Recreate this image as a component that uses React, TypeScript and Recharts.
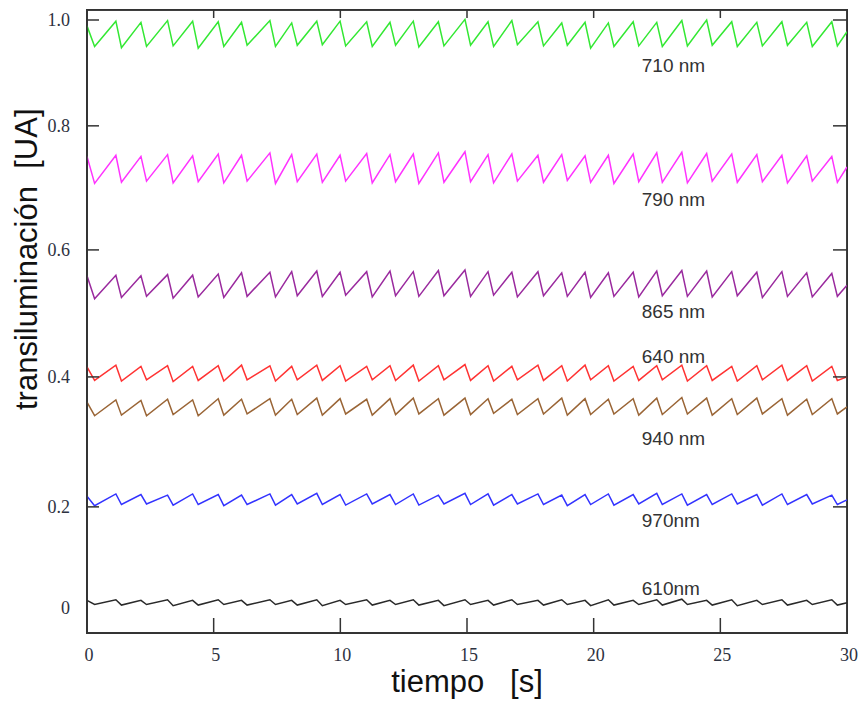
import React from 'react';
import { LineChart, Line, XAxis, YAxis, ReferenceDot, ReferenceLine, ReferenceArea, CartesianGrid } from 'recharts';

// sample times [s]: start, first trough, then peak/trough pairs for each beat, end
const TIME = [
  0, 0.3,
  1.14, 1.36, 2.13, 2.35, 3.18, 3.4, 4.17, 4.39, 5.18, 5.4,
  6.1, 6.32, 7.22, 7.44, 8.08, 8.3, 9.07, 9.29, 9.99, 10.21,
  11.04, 11.26, 11.96, 12.18, 12.88, 13.1, 13.87, 14.09, 14.92, 15.14,
  15.83, 16.05, 16.77, 16.99, 17.8, 18.02, 18.74, 18.96, 19.66, 19.88,
  20.58, 20.8, 21.56, 21.78, 22.49, 22.71, 23.48, 23.7, 24.46, 24.68,
  25.45, 25.67, 26.44, 26.66, 27.43, 27.65, 28.41, 28.63, 29.4, 29.62,
  30,
];

const S710 = [
  0.99, 0.955,
  0.998, 0.953, 0.996, 0.955, 0.999, 0.956, 0.998, 0.952, 0.997, 0.955,
  0.996, 0.957, 0.999, 0.955, 0.995, 0.957, 0.998, 0.958, 0.998, 0.956,
  0.997, 0.955, 0.996, 0.957, 0.998, 0.954, 0.997, 0.956, 1.001, 0.957,
  0.997, 0.955, 0.999, 0.958, 0.997, 0.956, 0.995, 0.957, 0.996, 0.952,
  0.995, 0.955, 0.997, 0.956, 0.996, 0.955, 0.999, 0.956, 1.0, 0.957,
  0.997, 0.955, 0.996, 0.956, 0.997, 0.957, 0.996, 0.955, 0.997, 0.956,
  0.98,
];

const S790 = [
  0.768, 0.722,
  0.77, 0.724, 0.768, 0.726, 0.771, 0.723, 0.769, 0.725, 0.772, 0.723,
  0.77, 0.726, 0.774, 0.722, 0.771, 0.725, 0.772, 0.724, 0.77, 0.726,
  0.773, 0.723, 0.771, 0.725, 0.772, 0.722, 0.774, 0.724, 0.776, 0.725,
  0.771, 0.723, 0.772, 0.726, 0.77, 0.724, 0.771, 0.727, 0.769, 0.724,
  0.77, 0.722, 0.772, 0.725, 0.774, 0.724, 0.775, 0.723, 0.773, 0.726,
  0.772, 0.724, 0.771, 0.725, 0.77, 0.723, 0.769, 0.726, 0.768, 0.724,
  0.75,
];

const S865 = [
  0.565, 0.526,
  0.566, 0.528, 0.565, 0.53, 0.567, 0.527, 0.566, 0.529, 0.568, 0.528,
  0.57, 0.53, 0.571, 0.529, 0.572, 0.531, 0.573, 0.53, 0.571, 0.532,
  0.572, 0.529, 0.573, 0.531, 0.572, 0.53, 0.574, 0.531, 0.575, 0.53,
  0.572, 0.532, 0.571, 0.529, 0.572, 0.531, 0.57, 0.53, 0.571, 0.528,
  0.57, 0.53, 0.571, 0.529, 0.573, 0.531, 0.574, 0.53, 0.573, 0.529,
  0.572, 0.531, 0.571, 0.528, 0.572, 0.53, 0.57, 0.529, 0.569, 0.53,
  0.549,
];

const S640 = [
  0.41, 0.387,
  0.413, 0.386, 0.411, 0.388, 0.412, 0.385, 0.411, 0.387, 0.412, 0.386,
  0.413, 0.388, 0.412, 0.386, 0.411, 0.388, 0.413, 0.387, 0.412, 0.386,
  0.411, 0.388, 0.412, 0.387, 0.413, 0.386, 0.412, 0.388, 0.414, 0.387,
  0.412, 0.386, 0.411, 0.388, 0.413, 0.387, 0.412, 0.386, 0.413, 0.388,
  0.412, 0.386, 0.411, 0.387, 0.412, 0.388, 0.413, 0.386, 0.412, 0.387,
  0.411, 0.386, 0.412, 0.388, 0.413, 0.387, 0.412, 0.386, 0.411, 0.387,
  0.393,
];

const S940 = [
  0.35, 0.327,
  0.354, 0.328, 0.353, 0.327, 0.355, 0.329, 0.354, 0.327, 0.356, 0.328,
  0.355, 0.33, 0.356, 0.328, 0.355, 0.329, 0.357, 0.328, 0.356, 0.33,
  0.355, 0.328, 0.356, 0.329, 0.357, 0.33, 0.356, 0.328, 0.357, 0.329,
  0.356, 0.331, 0.355, 0.329, 0.356, 0.33, 0.357, 0.328, 0.356, 0.329,
  0.355, 0.33, 0.356, 0.328, 0.357, 0.329, 0.358, 0.33, 0.357, 0.328,
  0.356, 0.329, 0.357, 0.33, 0.356, 0.328, 0.355, 0.329, 0.356, 0.33,
  0.342,
];

const S970 = [
  0.19, 0.174,
  0.194, 0.176, 0.193, 0.177, 0.192, 0.175, 0.194, 0.176, 0.193, 0.174,
  0.192, 0.176, 0.194, 0.175, 0.193, 0.177, 0.195, 0.176, 0.193, 0.175,
  0.194, 0.177, 0.193, 0.176, 0.194, 0.175, 0.192, 0.177, 0.195, 0.176,
  0.194, 0.175, 0.193, 0.177, 0.194, 0.176, 0.192, 0.174, 0.193, 0.176,
  0.194, 0.175, 0.193, 0.177, 0.195, 0.176, 0.194, 0.175, 0.193, 0.176,
  0.194, 0.177, 0.193, 0.175, 0.194, 0.176, 0.193, 0.177, 0.192, 0.176,
  0.184,
];

const S610 = [
  0.013, 0.006,
  0.014, 0.005, 0.013, 0.006, 0.014, 0.004, 0.013, 0.005, 0.014, 0.006,
  0.013, 0.005, 0.014, 0.006, 0.013, 0.005, 0.014, 0.004, 0.013, 0.006,
  0.014, 0.005, 0.013, 0.006, 0.014, 0.005, 0.013, 0.004, 0.014, 0.006,
  0.013, 0.005, 0.014, 0.006, 0.013, 0.005, 0.014, 0.006, 0.013, 0.004,
  0.014, 0.005, 0.013, 0.006, 0.014, 0.005, 0.015, 0.006, 0.013, 0.005,
  0.014, 0.004, 0.013, 0.006, 0.014, 0.005, 0.013, 0.006, 0.014, 0.005,
  0.009,
];

const SERIES_NAMES = ['710 nm', '790 nm', '865 nm', '640 nm', '940 nm', '970nm', '610nm'];
const SERIES_VALUES = [S710, S790, S865, S640, S940, S970, S610];

const X_TICKS = [0, 5, 10, 15, 20, 25, 30];
// the original figure's y axis is not evenly spaced: tick positions vs printed labels
const Y_TICK_POS = [0, 0.172, 0.393, 0.609, 0.82, 1.0];
const Y_TICK_LABELS = ['0', '0.2', '0.4', '0.6', '0.8', '1.0'];

// styles / layout
const COLORS = ['#33e833', '#ff33ff', '#9a2a9e', '#ff3333', '#9a6536', '#3333ff', '#2a2a2a'];
const LABEL_T = 21.9;
const LABEL_Y = [0.912, 0.684, 0.493, 0.417, 0.277, 0.138, 0.022];
const AXIS = '#333333';
const X_DOMAIN: [number, number] = [0, 30];
const Y_DOMAIN: [number, number] = [-0.0425, 1.017];
const PLOT = { left: 87, top: 10, width: 760, height: 623 };
const PX_X = (X_DOMAIN[1] - X_DOMAIN[0]) / PLOT.width;
const PX_Y = (Y_DOMAIN[1] - Y_DOMAIN[0]) / PLOT.height;
const TICK_FONT = { fontFamily: '"Liberation Serif", serif', fontSize: 18, fill: '#2d3140' };

const chartData = TIME.map((t, i) => {
  const row: Record<string, number> = { t };
  SERIES_VALUES.forEach((vals, s) => {
    row[`s${s}`] = vals[i];
  });
  return row;
});

// inner tick marks of the boxed frame (bottom, top, left, right)
const innerX = X_TICKS.filter((v) => v !== X_DOMAIN[0] && v !== X_DOMAIN[1]);
const innerY = Y_TICK_POS.filter((v) => v !== 0);
const TICK_SEGMENTS: { x: number; y: number }[][] = [
  ...innerX.map((v) => [
    { x: v, y: Y_DOMAIN[0] },
    { x: v, y: Y_DOMAIN[0] + 15 * PX_Y },
  ]),
  ...innerX.map((v) => [
    { x: v, y: Y_DOMAIN[1] },
    { x: v, y: Y_DOMAIN[1] - 8 * PX_Y },
  ]),
  ...innerY.map((v) => [
    { x: X_DOMAIN[0], y: v },
    { x: X_DOMAIN[0] + 12 * PX_X, y: v },
  ]),
  ...innerY.map((v) => [
    { x: X_DOMAIN[1] - 14 * PX_X, y: v },
    { x: X_DOMAIN[1], y: v },
  ]),
];

const BottomTick = (props: any) => {
  const { x, y, payload } = props;
  return (
    <text x={x + 2} y={y} dy="0.75em" textAnchor="middle" {...TICK_FONT}>
      {payload.value}
    </text>
  );
};

const LeftTick = (props: any) => {
  const { x, y, payload } = props;
  const idx = Y_TICK_POS.indexOf(payload.value);
  return (
    <text x={x} y={y} dy="0.35em" textAnchor="end" {...TICK_FONT}>
      {Y_TICK_LABELS[idx]}
    </text>
  );
};

const titleFont = { fontFamily: '"Liberation Sans", Arial, sans-serif', fontSize: 31, fill: '#111' };

const XTitle = (props: any) => {
  const vb = props.viewBox || { x: 87, y: 633, width: 760 };
  return (
    <text x={vb.x + vb.width / 2} y={vb.y + 59} textAnchor="middle" {...titleFont}>
      {'tiempo\u00A0\u00A0\u00A0[s]'}
    </text>
  );
};

const YTitle = (props: any) => {
  const vb = props.viewBox || { x: 27, y: 10 };
  const x = vb.x + 10;
  const y = vb.y + 400;
  return (
    <text x={x} y={y} transform={`rotate(-90 ${x} ${y})`} textAnchor="start" {...titleFont}>
      {'transiluminación\u00A0\u00A0[UA]'}
    </text>
  );
};

export default function App() {
  return (
    <div style={{ position: 'absolute', left: 0, top: 0, width: 861, height: 703, background: '#fff' }}>
      <LineChart width={861} height={703} data={chartData} margin={{ top: 10, right: 14, bottom: 30, left: 27 }}>
        <CartesianGrid
          xAxisId="bottom"
          yAxisId="left"
          horizontalPoints={[PLOT.top, PLOT.top + PLOT.height]}
          verticalPoints={[PLOT.left, PLOT.left + PLOT.width]}
          stroke={AXIS}
          strokeWidth={1.5}
          strokeDasharray=""
        />
        <XAxis
          xAxisId="bottom"
          dataKey="t"
          type="number"
          domain={X_DOMAIN}
          ticks={X_TICKS}
          interval={0}
          height={40}
          tickSize={0}
          tickMargin={14}
          axisLine={{ stroke: AXIS, strokeWidth: 1.5 }}
          tickLine={false}
          tick={BottomTick}
          label={XTitle}
        />
        <YAxis
          yAxisId="left"
          type="number"
          domain={Y_DOMAIN}
          allowDataOverflow
          ticks={Y_TICK_POS}
          interval={0}
          width={60}
          tickSize={0}
          tickMargin={17}
          axisLine={{ stroke: AXIS, strokeWidth: 1.5 }}
          tickLine={false}
          tick={LeftTick}
          label={YTitle}
        />
        {SERIES_NAMES.map((name, s) => (
          <Line
            key={name}
            xAxisId="bottom"
            yAxisId="left"
            type="linear"
            dataKey={`s${s}`}
            stroke={COLORS[s]}
            strokeWidth={1.5}
            dot={false}
            isAnimationActive={false}
          />
        ))}
        {/* boxed frame around the plot */}
        <ReferenceArea
          xAxisId="bottom"
          yAxisId="left"
          x1={X_DOMAIN[0]}
          x2={X_DOMAIN[1]}
          y1={Y_DOMAIN[0]}
          y2={Y_DOMAIN[1]}
          ifOverflow="visible"
          fill="none"
          stroke={AXIS}
          strokeWidth={1.5}
        />
        {TICK_SEGMENTS.map((seg, i) => (
          <ReferenceLine
            key={`tick-${i}`}
            xAxisId="bottom"
            yAxisId="left"
            segment={seg}
            ifOverflow="visible"
            stroke={AXIS}
            strokeWidth={1.5}
          />
        ))}
        {SERIES_NAMES.map((name, s) => (
          <ReferenceDot
            key={`lbl-${name}`}
            xAxisId="bottom"
            yAxisId="left"
            x={LABEL_T}
            y={LABEL_Y[s]}
            r={0}
            fill="none"
            stroke="none"
            label={(p: any) => (
              <text
                x={p.viewBox?.x ?? 0}
                y={p.viewBox?.y ?? 0}
                fontFamily='"Liberation Sans", Arial, sans-serif'
                fontSize={19}
                fill="#333"
              >
                {name}
              </text>
            )}
          />
        ))}
      </LineChart>
      {/* fallback outline of the plot frame */}
      <div
        style={{
          position: 'absolute',
          left: PLOT.left - 1,
          top: PLOT.top - 1,
          width: PLOT.width + 2,
          height: PLOT.height + 2,
          border: `1.5px solid ${AXIS}`,
          boxSizing: 'border-box',
          pointerEvents: 'none',
        }}
      />
    </div>
  );
}
